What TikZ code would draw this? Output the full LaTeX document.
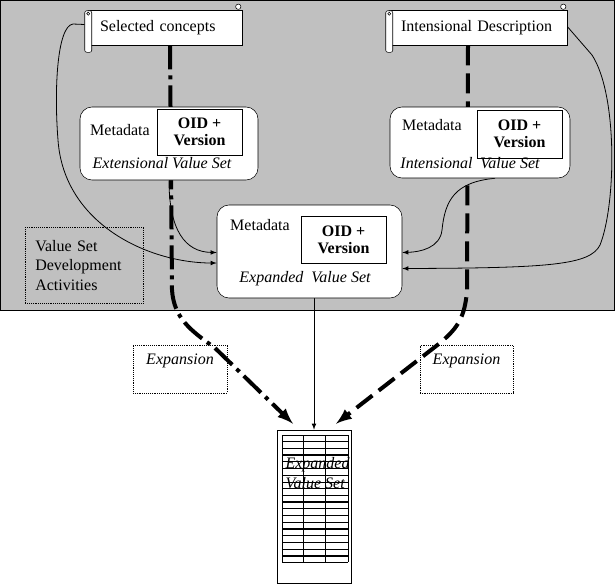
\documentclass[tikz,border=0pt]{standalone}
\usepackage{fontspec}
\setmainfont{Liberation Serif}
\usepackage{tikz}
\usetikzlibrary{calc}
\usetikzlibrary{shapes}
\definecolor{panel}{HTML}{C0C0C0}
\pgfdeclarelayer{back}
\pgfdeclarelayer{wires}
\pgfsetlayers{back,wires,main}
\newcommand{\rolls}[1]{
  \draw[fill=white, rounded corners=1.5pt] ($(#1.north west)+(-3,1)$) rectangle ($(#1.south west)+(4,7)$);
  \draw[fill=white] ($(#1.north west)+(0.5,4)$) circle (1.2pt);
  \draw[fill=white] ($(#1.north east)+(-4,-3)$) circle (2pt);
}

\begin{document}
\fontsize{12pt}{14.5pt}\selectfont
\begin{tikzpicture}[x=0.75pt, y=-0.75pt, >=latex,
    scroll/.style={draw, fill=white, inner xsep=9pt, align=left, minimum height=26.25pt},
    mdbox/.style={draw, fill=white, rounded corners=9pt},
    oidbox/.style={draw, fill=white, font=\bfseries, align=center, minimum width=63.75pt},
    dotbox/.style={draw, densely dotted},
    flow/.style={->, line width=0.6pt},
    dashdot line/.style={->, line width=3pt, dash pattern=on 18pt off 4.5pt on 3pt off 4.5pt},
    dash line/.style={->, line width=3pt, dash pattern=on 15pt off 6pt}]
        \useasboundingbox (0,0) rectangle (616,587);
        \begin{pgfonlayer}{back}
        \draw[fill=panel] (0,0) rectangle (614,310);
        \end{pgfonlayer}

        % sources
        \node[scroll, text width=97.5pt] (selected) at (165,27.5) {Selected concepts};
        \rolls{selected}
        \node[scroll, text width=115.5pt] (intdesc) at (478,27.5) {Intensional Description};
        \rolls{intdesc}

        % value sets
        \node[mdbox, minimum width=133.5pt, minimum height=54.75pt] (extvs) at (169,143.5) {};
        \node[oidbox, minimum height=34.5pt] (extoid) at (199.5,132) {OID +\\[-1.5pt]Version};
        \node (extmeta) at (120,130) {Metadata};
        \node[font=\itshape] (extname) at (162,163) {Extensional Value Set};

        \node[mdbox, minimum width=135pt, minimum height=53.25pt] (intvs) at (480,142.5) {};
        \node[oidbox, minimum height=36pt] (intoid) at (519.5,134) {OID +\\[-1.5pt]Version};
        \node (intmeta) at (432,125) {Metadata};
        \node[font=\itshape] (intname) at (470,163) {Intensional~~Value Set};

        \node[mdbox, minimum width=138.75pt, minimum height=69.75pt] (expvs) at (309.5,251.5) {};
        \node[oidbox, minimum height=35.25pt] (expoid) at (343.5,239.5) {OID +\\[-1.5pt]Version};
        \node (expmeta) at (260,225) {Metadata};
        \node[font=\itshape] (expname) at (305,279) {Expanded~~Value Set};

        % notes
        \node[dotbox, anchor=north west, inner xsep=7.5pt, text width=73.5pt, minimum height=57pt, align=left] (activities) at (25,227) {Value Set\\Development\\Activities};
        \node[dotbox, font=\itshape, align=center, minimum width=70.5pt, minimum height=36pt] (expleft) at (180,369) {Expansion\\~};
        \node[dotbox, font=\itshape, align=center, minimum width=70pt, minimum height=36pt] (expright) at (466.5,369) {Expansion\\~};

        % expanded list
        \node[draw, fill=white, minimum width=55.5pt, minimum height=114.75pt] (doc) at (314,506.5) {};
        \foreach \r in {0,...,19}
            \draw[line width=0.6pt] (282,{435+6.7*\r}) -- (348,{435+6.7*\r});
        \foreach \r in {3,10,14,18}
            \draw[line width=1.5pt] (282,{435+6.7*\r}) -- (348,{435+6.7*\r});
        \foreach \c in {282,303,325,348}
            \draw[line width=0.6pt] (\c,435) -- (\c,562.3);
        \node[font=\itshape, anchor=west] (doctop) at (280,465) {Expanded};
        \node[font=\itshape, anchor=west] (docbottom) at (280,483) {Value Set};

        % connectors
        \begin{pgfonlayer}{wires}
        \draw[dashdot line] ($(selected.south)+(5,0)$) -- (172,290) .. controls (174,318) and (190,330) .. (215,348) -- ($(doc.north)+(-21,-6)$);
        \draw[dash line] ($(intdesc.south)+(-10,0)$) -- (467,290) .. controls (465,320) and (455,330) .. (440,343) -- ($(doc.north)+(22,-6)$);
        \draw[flow] (expvs.south -| doc.north) -- (doc.north);
        \draw[flow] ($(selected.west)+(-3,-3)$) -- (73,24) .. controls (57,26) and (54,90) .. (58,140) .. controls (64,225) and (150,263) .. ($(expvs.west)+(0,11.5)$);
        \draw[flow] (extvs.south) .. controls (169,230) and (185,252) .. ($(expvs.west)+(0,1)$);
        \draw[flow] ($(intvs.south)+(15,0)$) .. controls (455,182) and (445,200) .. (442,230) .. controls (440,248) and (420,252) .. ($(expvs.east)+(0,1)$);
        \draw[flow] ($(intdesc.east)+(0,-1)$) -- (592,55) .. controls (618,95) and (616,205) .. (600,245) .. controls (590,265) and (550,268) .. ($(expvs.east)+(0,17)$);
        \end{pgfonlayer}
    \end{tikzpicture}
\end{document}
